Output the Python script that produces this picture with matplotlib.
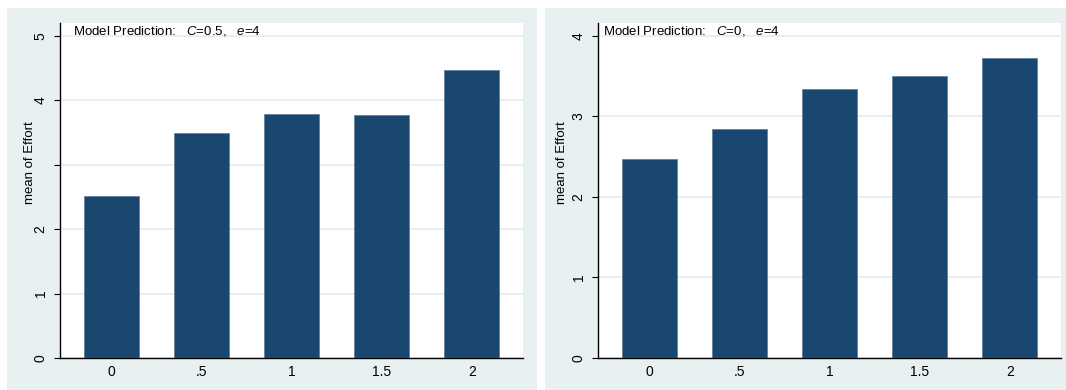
import matplotlib.pyplot as plt
from matplotlib.patches import Rectangle

plt.rcParams['font.family'] = ['Liberation Sans', 'DejaVu Sans']
plt.rcParams['mathtext.fontset'] = 'custom'
plt.rcParams['mathtext.rm'] = 'Liberation Sans'
plt.rcParams['mathtext.it'] = 'Liberation Sans:italic'

# data
levels = ['0', '.5', '1', '1.5', '2']
effort_c05 = [2.52, 3.49, 3.79, 3.77, 4.47]
effort_c0 = [2.47, 2.84, 3.34, 3.50, 3.72]

yticks_c05 = [0, 1, 2, 3, 4, 5]
ylabels_c05 = ['0', '1', '2', '', '4', '5']
yticks_c0 = [0, 1, 2, 3, 4]
ylabels_c0 = ['0', '1', '2', '3', '4']

titles = ['Model Prediction:   $C$=0.5,   $e$=4',
          'Model Prediction:   $C$=0,   $e$=4']

bg = '#e9f0f2'
grid_col = '#e4ecef'
bar_col = '#1a476f'

W, H = 1066, 390
fig = plt.figure(figsize=(W / 100, H / 100), dpi=100)


def px_box(x0, y0, x1, y1):
    # pixel box (top-left origin) -> figure fractions
    return [x0 / W, 1 - y1 / H, (x1 - x0) / W, (y1 - y0) / H]


panels = [
    dict(bg=(7, 8, 537, 390), ax=(60, 23, 523, 358), vals=effort_c05,
         ymax=5.2, ticks=yticks_c05, labels=ylabels_c05, title=titles[0],
         tx=73, ylab_x=30),
    dict(bg=(545, 8, 1066, 390), ax=(598, 23, 1061, 358), vals=effort_c0,
         ymax=4.16, ticks=yticks_c0, labels=ylabels_c0, title=titles[1],
         tx=603, ylab_x=562),
]

for p in panels:
    x0, y0, x1, y1 = p['bg']
    fig.patches.append(Rectangle((x0 / W, 1 - y1 / H), (x1 - x0) / W, (y1 - y0) / H,
                                 transform=fig.transFigure, facecolor=bg,
                                 edgecolor='none', zorder=-5))

    ax = fig.add_axes(px_box(*p['ax']))
    ax.set_zorder(2)
    ax.set_facecolor('white')
    xs = list(range(len(levels)))
    ax.bar(xs, p['vals'], width=0.61, color=bar_col, edgecolor='#4f6f8c',
           linewidth=0.4, zorder=3)
    ax.set_xlim(-0.567, 4.567)
    ax.set_ylim(0, p['ymax'])

    ax.set_xticks(xs)
    ax.set_xticklabels(levels, fontsize=10)
    ax.tick_params(axis='x', length=0, pad=5)
    ax.set_yticks(p['ticks'])
    ax.set_yticklabels(p['labels'], rotation=90, va='center', fontsize=10)
    ax.tick_params(axis='y', length=4, width=0.8, pad=5, direction='out')

    ax.grid(axis='y', color=grid_col, linewidth=1.2, zorder=0)
    ax.set_axisbelow(True)
    for side in ['top', 'right']:
        ax.spines[side].set_visible(False)
    ax.spines['left'].set_linewidth(1.0)
    ax.spines['bottom'].set_linewidth(1.0)

    fig.text(p['tx'] / W, 1 - 31 / H, p['title'], fontsize=9.5,
             ha='left', va='center', zorder=5)
    fig.text(p['ylab_x'] / W, 1 - 163 / H, 'mean of Effort', fontsize=9.5,
             rotation=90, ha='center', va='center', zorder=5)

fig.savefig('out.png', dpi=100)
